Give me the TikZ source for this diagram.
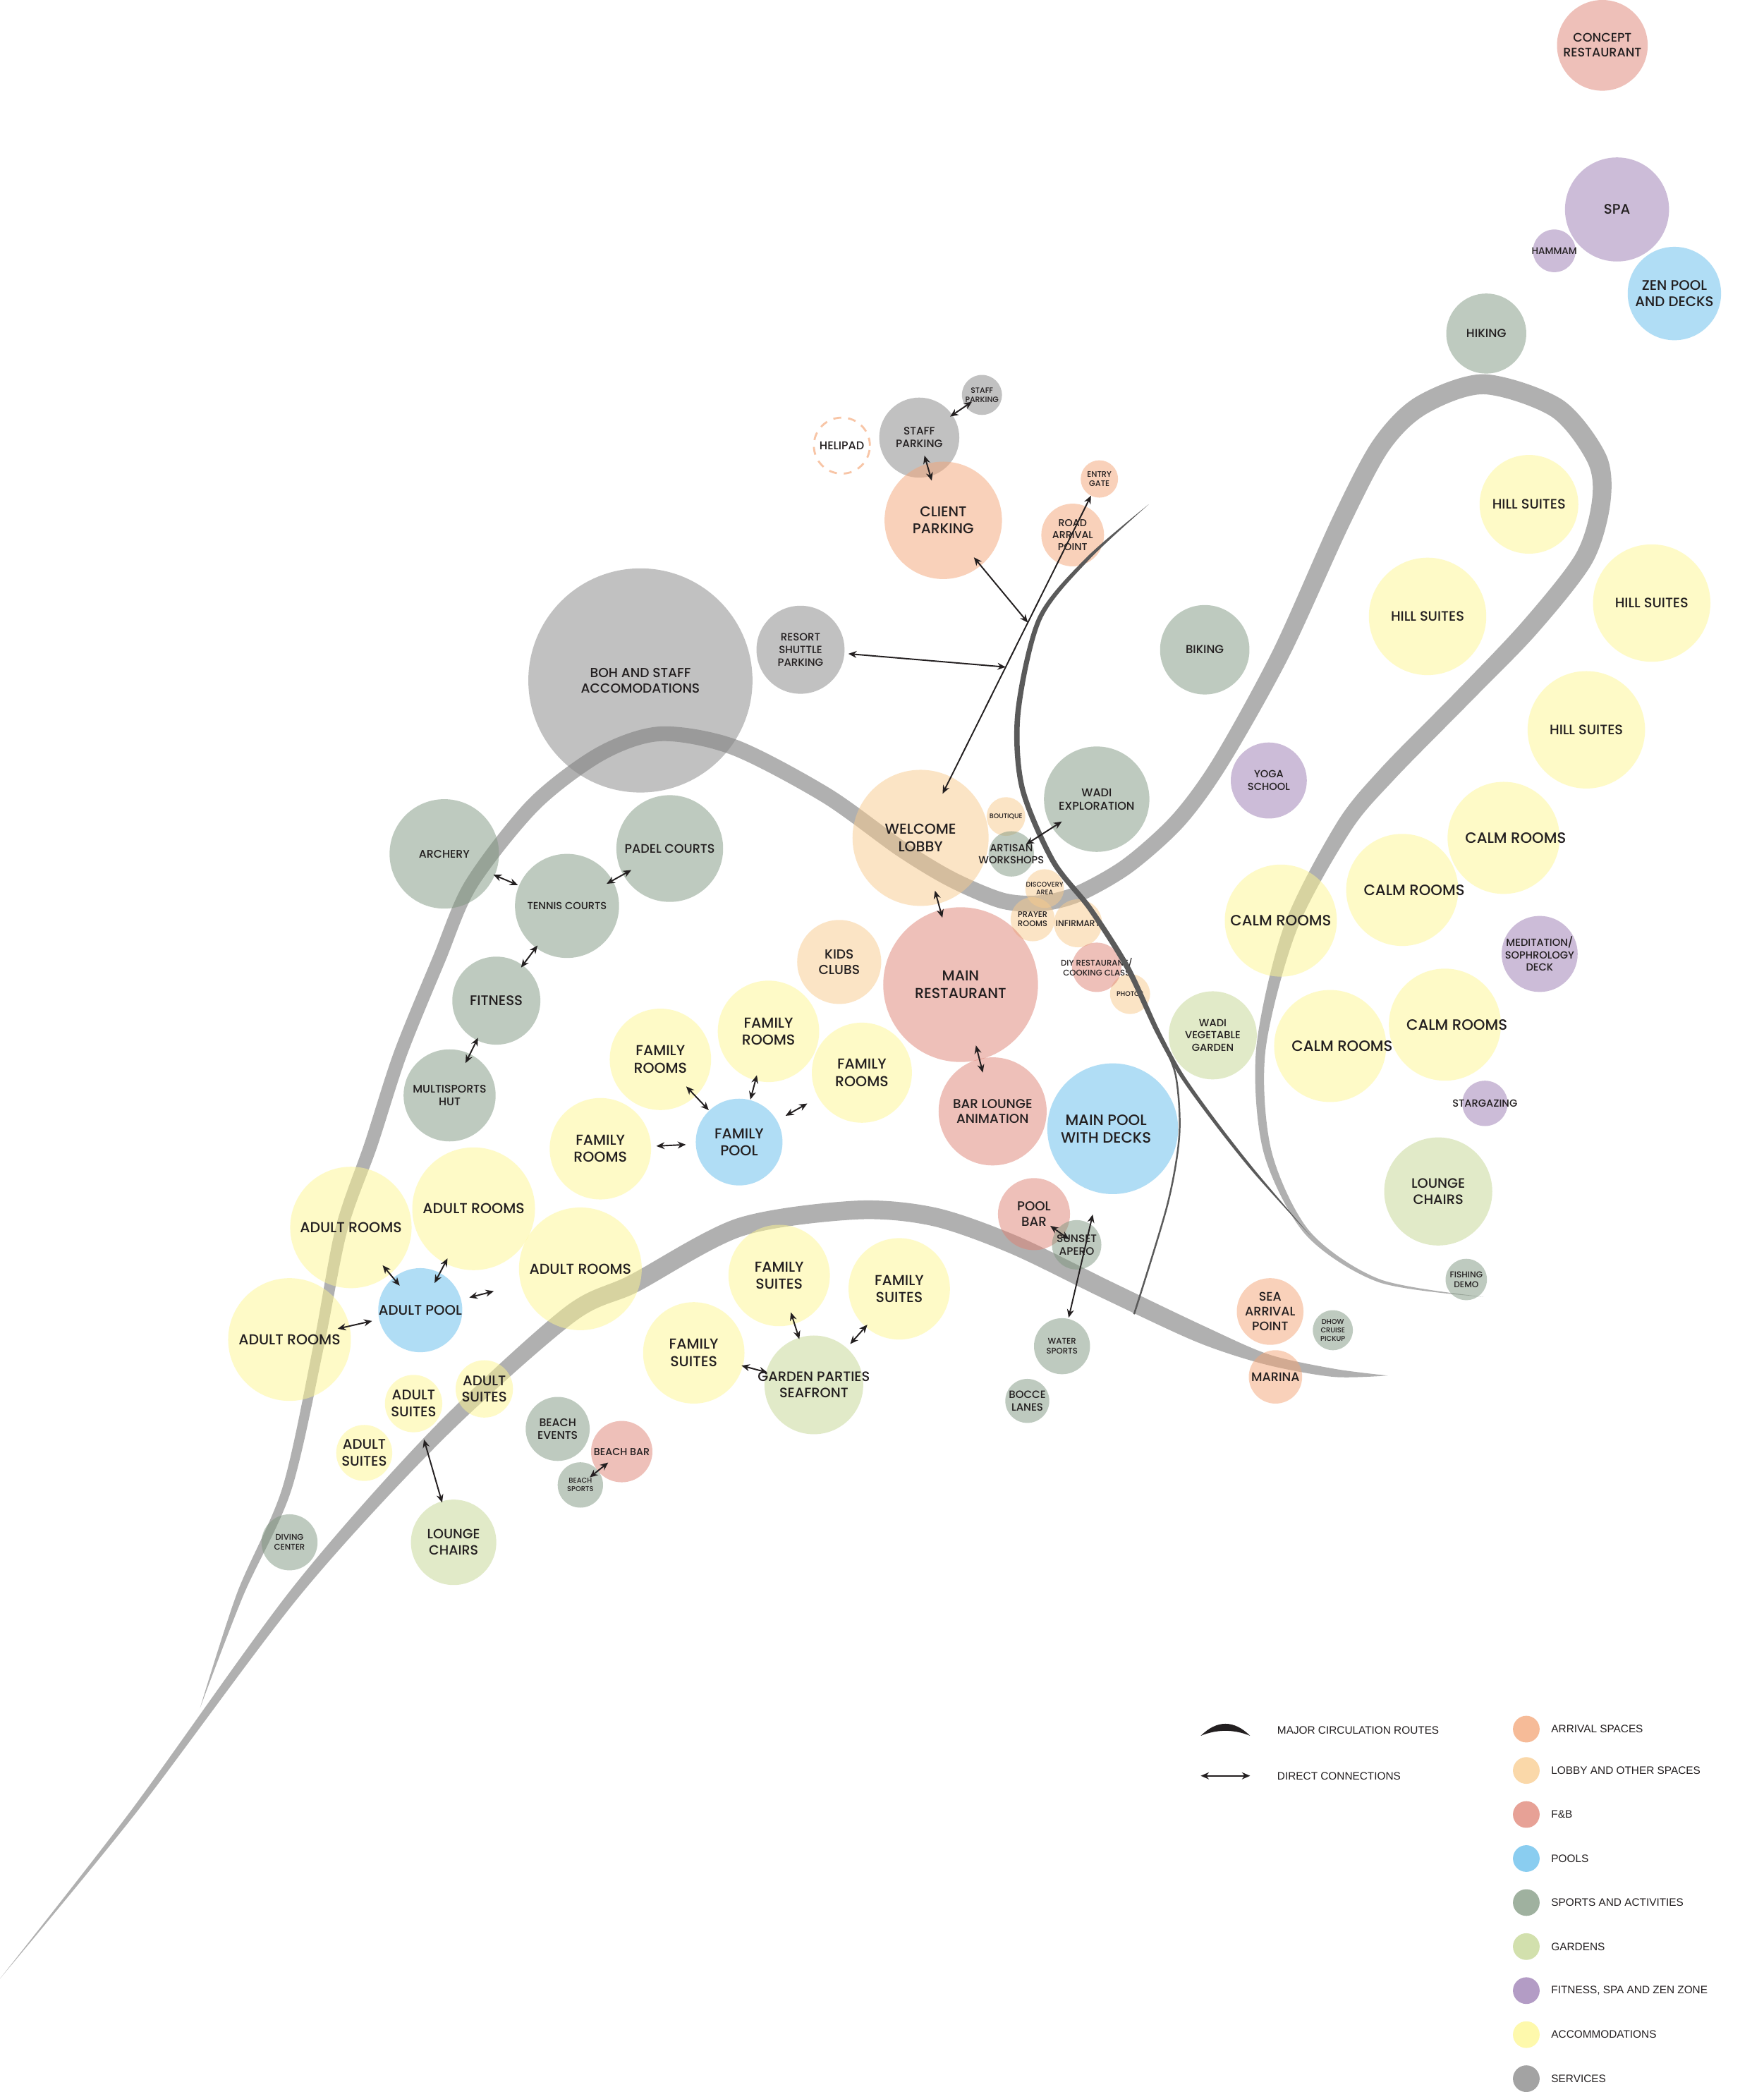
\documentclass[tikz,border=0pt]{standalone}
\usepackage{fontspec}
\setmainfont{Liberation Sans}
\newfontfamily\mapfont{Poppins}[UprightFont=* Medium]
\usetikzlibrary{arrows.meta,calc}

\newlength\pxu
\setlength\pxu{0.018911cm}
\newcommand\fsz[1]{\fontsize{\fpeval{1.04*#1}}{\fpeval{1.24*#1}}\selectfont}

\definecolor{arrival}{RGB}{244,165,118}
\definecolor{lobbyc}{RGB}{249,203,141}
\definecolor{fnb}{RGB}{223,130,116}
\definecolor{poolc}{RGB}{99,189,236}
\definecolor{sport}{RGB}{127,151,128}
\definecolor{gardenc}{RGB}{196,214,146}
\definecolor{spac}{RGB}{154,123,178}
\definecolor{accom}{RGB}{254,247,145}
\definecolor{service}{RGB}{133,133,133}
\definecolor{routec}{RGB}{176,176,176}
\definecolor{roadc}{RGB}{90,90,90}
\definecolor{ink}{RGB}{35,31,32}

\tikzset{
    bub/.style 2 args={circle, inner sep=0pt, fill=#1, fill opacity=0.5, minimum size=#2\pxu},
    lbl/.style={font=\mapfont\fsz{#1}, align=center, inner sep=0pt, text=ink, text opacity=1},
    keylbl/.style={font=\fsz{4.2}, inner sep=0pt, text=ink, text opacity=1},
    link/.style 2 args={<->, >={Stealth[length=3.3pt,width=2.8pt]}, line width=0.55pt, draw=ink,
        shorten <=#1\pxu, shorten >=#2\pxu},
    route/.style={fill=routec},
    road/.style={fill=roadc},
    legdot/.style={circle, inner sep=0pt, fill=#1, fill opacity=0.75, minimum size=20\pxu}
}

\begin{document}
\begin{tikzpicture}[x=0.018911cm, y=-0.018911cm]
        \useasboundingbox[fill=white] (0,0) rectangle (1322,1568);

        %% Major circulation routes
        % Beach promenade
        \fill[route] plot[smooth] coordinates {(0,1483) (98.4,1356.8) (218.9,1190.5) (324.1,1071.1)
            (422,980.8) (471.8,955.8) (551.8,913.4) (640.6,900) (701.5,905.2) (762.7,926.5)
            (833,960.7) (902.6,994) (951.1,1015.2) (1000.4,1026) (1040,1031)}
            -- plot[smooth] coordinates {(1040,1031) (999.6,1032) (948.9,1022.8) (897.4,1006)
            (827,973.3) (757.3,939.5) (698.5,918.8) (641.4,914) (556.2,926.6) (478.2,968.2)
            (430,991.2) (331.9,1078.9) (225.1,1195.5) (101.6,1359.2) (0,1483)}
            -- cycle
        ;
        % Hill loop
        \fill[route] plot[smooth] coordinates {(150,1280) (177.7,1194) (211.7,1115) (235.1,1007.2)
            (251.6,919.9) (273.3,856.4) (295.3,788.3) (324.4,717.1) (348.7,660.4) (396.1,599.1)
            (447.3,560.2) (494.7,544.5) (552.1,554.4) (622.1,590.9) (678.3,631) (715.7,653.7)
            (752.6,669.2) (779.5,671) (805.6,664.5) (841.5,644.2) (878.5,611) (909.9,567.9)
            (954.2,487.1) (998.7,388) (1029.2,330) (1061.2,297.6) (1112.1,280.5) (1171.1,299.7)
            (1203.8,340.8) (1206.9,377.9) (1193.1,422.5) (1151.3,475.6) (1100.7,527.5)
            (1044.8,584.4) (1012.1,623.2) (971.7,697.7) (948.5,787.4) (952.9,862.3)
            (981.5,922.7) (1034.4,958.9) (1112,972)}
            -- plot[smooth] coordinates {(1112,972) (1033.6,961.1) (978.5,925.3) (947.1,863.7)
            (941.5,786.6) (962.3,694.3) (1001.9,616.8) (1035.2,575.6) (1091.3,518.5)
            (1140.7,466.4) (1180.9,415.5) (1193.1,376.1) (1190.2,347.2) (1162.9,312.3)
            (1111.9,295.5) (1068.8,310.4) (1040.8,338) (1011.3,394) (965.8,492.9) (920.1,574.1)
            (887.5,619) (848.5,653.8) (810.4,675.5) (780.5,683) (749.4,680.8) (710.3,664.3)
            (671.7,641) (615.9,601.1) (547.9,565.6) (495.3,555.5) (452.7,569.8) (403.9,606.9)
            (357.3,665.6) (333.6,720.9) (304.7,791.7) (282.7,859.6) (260.4,922.1)
            (242.9,1008.8) (218.3,1117) (182.3,1196) (150,1280)}
            -- cycle
        ;

        %% Services
        \node[bub={service}{168}, label={[lbl=5.1]center:BOH AND STAFF\\ACCOMODATIONS}] (boh) at (480,510) {};
        \node[bub={service}{66}, label={[lbl=4.1]center:RESORT\\SHUTTLE\\PARKING}] (shuttle) at (600,487) {};
        \node[bub={service}{60}, label={[lbl=4.2]center:STAFF\\PARKING}] (spark) at (689,328) {};
        \node[bub={service}{30}, label={[lbl=3]center:STAFF\\PARKING}] (spark2) at (736,296) {};

        %% Arrival
        \node[circle, inner sep=0pt, minimum size=42\pxu, draw=arrival!65, line width=0.8pt,
            dash pattern=on 3.2pt off 2.8pt, label={[lbl=4.4]center:HELIPAD}] (helipad) at (631,334) {};
        \node[bub={arrival}{88}, label={[lbl=5.5]center:CLIENT\\PARKING}] (clientpark) at (707,390) {};
        \node[bub={arrival}{28}, label={[lbl=3.1]center:ENTRY\\GATE}] (entrygate) at (824,359) {};
        \node[bub={arrival}{47}, label={[lbl=3.9]center:ROAD\\ARRIVAL\\POINT}] (roadarr) at (804,401) {};
        \node[bub={arrival}{50}, label={[lbl=4.8]center:SEA\\ARRIVAL\\POINT}] (seaarr) at (952,983) {};
        \node[bub={arrival}{40}, label={[lbl=4.8]center:MARINA}] (marina) at (956,1032) {};

        %% Lobby and other spaces
        \node[bub={lobbyc}{102}, label={[lbl=5.6]center:WELCOME\\LOBBY}] (lobby) at (690,628) {};
        \node[bub={lobbyc}{29}, label={[lbl=2.6]center:BOUTIQUE}] (boutique) at (754,612) {};
        \node[bub={lobbyc}{29}, label={[lbl=2.6]center:DISCOVERY\\AREA}] (discovery) at (783,666) {};
        \node[bub={lobbyc}{33}, label={[lbl=3.1]center:PRAYER\\ROOMS}] (prayer) at (774,689) {};
        \node[bub={lobbyc}{36}, label={[lbl=3.3]center:INFIRMARY}] (infirmary) at (808,692) {};
        \node[bub={lobbyc}{30}, label={[lbl=2.6]center:PHOTOS}] (photos) at (847,745) {};
        \node[bub={lobbyc}{63}, label={[lbl=5.1]center:KIDS\\CLUBS}] (kids) at (629,721) {};

        %% F&B
        \node[bub={fnb}{68}, label={[lbl=4.8]center:CONCEPT\\RESTAURANT}] (concept) at (1201,34) {};
        \node[bub={fnb}{116}, label={[lbl=5.6]center:MAIN\\RESTAURANT}] (mainrest) at (720,738) {};
        \node[bub={fnb}{37}, label={[lbl=3.2]center:DIY RESTAURANT/\\COOKING CLASS}] (diy) at (822,725) {};
        \node[bub={fnb}{81}, label={[lbl=5]center:BAR LOUNGE\\ANIMATION}] (barlounge) at (744,833) {};
        \node[bub={fnb}{54}, label={[lbl=5]center:POOL\\BAR}] (poolbar) at (775,910) {};
        \node[bub={fnb}{46}, label={[lbl=3.9]center:BEACH BAR}] (beachbar) at (466,1088) {};

        %% Pools
        \node[bub={poolc}{70}, label={[lbl=5.4]center:ZEN POOL\\AND DECKS}] (zenpool) at (1255,220) {};
        \node[bub={poolc}{98}, label={[lbl=5.8, xshift=-5\pxu]center:MAIN POOL\\WITH DECKS}] (mainpool) at (834,846) {};
        \node[bub={poolc}{65}, label={[lbl=5.6]center:FAMILY\\POOL}] (fampool) at (554,856) {};
        \node[bub={poolc}{63}, label={[lbl=5.4]center:ADULT POOL}] (adultpool) at (315,982) {};

        %% Sports and activities
        \node[bub={sport}{60}, label={[lbl=4.6]center:HIKING}] (hiking) at (1114,250) {};
        \node[bub={sport}{67}, label={[lbl=4.5]center:BIKING}] (biking) at (903,487) {};
        \node[bub={sport}{79}, label={[lbl=4.4]center:WADI\\EXPLORATION}] (wadiexp) at (822,599) {};
        \node[bub={sport}{34}, label={[lbl=4]center:ARTISAN\\WORKSHOPS}] (artisan) at (758,640) {};
        \node[bub={sport}{82}, label={[lbl=4.3]center:ARCHERY}] (archery) at (333,640) {};
        \node[bub={sport}{80}, label={[lbl=4.8]center:PADEL COURTS}] (padel) at (502,636) {};
        \node[bub={sport}{78}, label={[lbl=4]center:TENNIS COURTS}] (tennis) at (425,679) {};
        \node[bub={sport}{66}, label={[lbl=5.4]center:FITNESS}] (fitness) at (372,750) {};
        \node[bub={sport}{69}, label={[lbl=4.3]center:MULTISPORTS\\HUT}] (multisport) at (337,821) {};
        \node[bub={sport}{37}, label={[lbl=4.2]center:SUNSET\\APERO}] (apero) at (807,933) {};
        \node[bub={sport}{42}, label={[lbl=3.2]center:WATER\\SPORTS}] (watersport) at (796,1009) {};
        \node[bub={sport}{33}, label={[lbl=4.1]center:BOCCE\\LANES}] (bocce) at (770,1050) {};
        \node[bub={sport}{30}, label={[lbl=2.7]center:DHOW\\CRUISE\\PICKUP}] (dhow) at (999,997) {};
        \node[bub={sport}{31}, label={[lbl=3.3]center:FISHING\\DEMO}] (fishing) at (1099,959) {};
        \node[bub={sport}{48}, label={[lbl=4.3]center:BEACH\\EVENTS}] (beachev) at (418,1071) {};
        \node[bub={sport}{34}, label={[lbl=2.7]center:BEACH\\SPORTS}] (beachsp) at (435,1113) {};
        \node[bub={sport}{42}, label={[lbl=3.2]center:DIVING\\CENTER}] (diving) at (217,1156) {};

        %% Gardens
        \node[bub={gardenc}{66}, label={[lbl=4]center:WADI\\VEGETABLE\\GARDEN}] (wadiveg) at (909,776) {};
        \node[bub={gardenc}{81}, label={[lbl=5.3]center:LOUNGE\\CHAIRS}] (lounge2) at (1078,893) {};
        \node[bub={gardenc}{74}, label={[lbl=5.3]center:GARDEN PARTIES\\SEAFRONT}] (gardenparty) at (610,1038) {};
        \node[bub={gardenc}{64}, label={[lbl=5.2]center:LOUNGE\\CHAIRS}] (lounge1) at (340,1156) {};

        %% Fitness, spa and zen zone
        \node[bub={spac}{78}, label={[lbl=5.4]center:SPA}] (spa) at (1212,157) {};
        \node[bub={spac}{32}, label={[lbl=3.7]center:HAMMAM}] (hammam) at (1165,188) {};
        \node[bub={spac}{57}, label={[lbl=4]center:YOGA\\SCHOOL}] (yoga) at (951,585) {};
        \node[bub={spac}{57}, label={[lbl=4]center:MEDITATION/\\SOPHROLOGY\\DECK}] (meditation) at (1154,715) {};
        \node[bub={spac}{34}, label={[lbl=4]center:STARGAZING}] (stargazing) at (1113,827) {};

        %% Accommodations
        \node[bub={accom}{74}, label={[lbl=5.3]center:HILL SUITES}] (hill1) at (1146,378) {};
        \node[bub={accom}{88}, label={[lbl=5.3]center:HILL SUITES}] (hill2) at (1070,462) {};
        \node[bub={accom}{88}, label={[lbl=5.3]center:HILL SUITES}] (hill3) at (1238,452) {};
        \node[bub={accom}{88}, label={[lbl=5.3]center:HILL SUITES}] (hill4) at (1189,547) {};
        \node[bub={accom}{84}, label={[lbl=5.8]center:CALM ROOMS}] (calm1) at (960,690) {};
        \node[bub={accom}{84}, label={[lbl=5.8, xshift=9\pxu]center:CALM ROOMS}] (calm2) at (1051,667) {};
        \node[bub={accom}{84}, label={[lbl=5.8, xshift=9\pxu]center:CALM ROOMS}] (calm3) at (1127,628) {};
        \node[bub={accom}{84}, label={[lbl=5.8, xshift=9\pxu]center:CALM ROOMS}] (calm4) at (1083,768) {};
        \node[bub={accom}{84}, label={[lbl=5.8, xshift=9\pxu]center:CALM ROOMS}] (calm5) at (997,784) {};
        \node[bub={accom}{76}, label={[lbl=5.6]center:FAMILY\\ROOMS}] (famA) at (495,794) {};
        \node[bub={accom}{76}, label={[lbl=5.6]center:FAMILY\\ROOMS}] (famB) at (576,773) {};
        \node[bub={accom}{75}, label={[lbl=5.6]center:FAMILY\\ROOMS}] (famC) at (646,804) {};
        \node[bub={accom}{76}, label={[lbl=5.6]center:FAMILY\\ROOMS}] (famD) at (450,861) {};
        \node[bub={accom}{91}, label={[lbl=5.6]center:ADULT ROOMS}] (adultA) at (263,920) {};
        \node[bub={accom}{92}, label={[lbl=5.6]center:ADULT ROOMS}] (adultB) at (355,906) {};
        \node[bub={accom}{92}, label={[lbl=5.6]center:ADULT ROOMS}] (adultC) at (435,951) {};
        \node[bub={accom}{92}, label={[lbl=5.6]center:ADULT ROOMS}] (adultD) at (217,1004) {};
        \node[bub={accom}{76}, label={[lbl=5.6]center:FAMILY\\SUITES}] (suiteA) at (584,956) {};
        \node[bub={accom}{76}, label={[lbl=5.6]center:FAMILY\\SUITES}] (suiteB) at (674,966) {};
        \node[bub={accom}{76}, label={[lbl=5.6]center:FAMILY\\SUITES}] (suiteC) at (520,1014) {};
        \node[bub={accom}{43}, label={[lbl=5.4]center:ADULT\\SUITES}] (adsuiteA) at (310,1052) {};
        \node[bub={accom}{43}, label={[lbl=5.4]center:ADULT\\SUITES}] (adsuiteB) at (363,1041) {};
        \node[bub={accom}{42}, label={[lbl=5.4]center:ADULT\\SUITES}] (adsuiteC) at (273,1089) {};

        %% Access road, over the bubbles
        \fill[road] plot[smooth] coordinates {(861,378) (815.9,419.9) (780.6,464.7) (765,534.2)
            (767.9,589.5) (790.7,644) (818.6,679.9) (846.8,724) (868.6,771.2) (886.3,804.2)
            (911,839.2) (940.8,877.4) (982,926)}
            -- plot[smooth] coordinates {(982,926) (939.2,878.6) (909,840.8) (883.7,805.8)
            (865.4,772.8) (843.2,726) (815.4,682.1) (787.3,646) (764.1,590.5) (761,533.8)
            (777.4,463.3) (814.1,418.1) (861,378)}
            -- cycle
        ;
        \draw[roadc, line width=0.7pt] plot[smooth] coordinates {(868,775) (881,805) (884,850) (875,903) (850,985)};

        %% Direct connections
        \coordinate (roadpt1) at ($(lobby)!0.6!(entrygate)$);
        \coordinate (roadpt2) at ($(lobby)!0.476!(entrygate)$);
        \draw[link={28}{9}] (spark.center) -- (spark2.center);
        \draw[link={14}{31}] (spark.center) -- (clientpark.center);
        \draw[link={36}{0}] (clientpark.center) -- (roadpt1);
        \draw[link={36}{0}] (shuttle.center) -- (roadpt2);
        \draw[link={37}{14}] (lobby.center) -- (entrygate.center);
        \draw[link={13}{31}] (artisan.center) -- (wadiexp.center);
        \draw[link={41}{52}] (lobby.center) -- (mainrest.center);
        \draw[link={47}{30}] (mainrest.center) -- (barlounge.center);
        \draw[link={40}{40}] (archery.center) -- (tennis.center);
        \draw[link={33}{34}] (padel.center) -- (tennis.center);
        \draw[link={37}{31}] (tennis.center) -- (fitness.center);
        \draw[link={31}{27}] (fitness.center) -- (multisport.center);
        \draw[link={28}{33}] (famA.center) -- (fampool.center);
        \draw[link={34}{33}] (famB.center) -- (fampool.center);
        \draw[link={47}{40}] (famC.center) -- (fampool.center);
        \draw[link={42}{40}] (famD.center) -- (fampool.center);
        \draw[link={37}{24}] (adultA.center) -- (adultpool.center);
        \draw[link={42}{23}] (adultB.center) -- (adultpool.center);
        \draw[link={67}{38}] (adultC.center) -- (adultpool.center);
        \draw[link={37}{37}] (adultD.center) -- (adultpool.center);
        \draw[link={28}{31}] (adsuiteA.center) -- (lounge1.center);
        \draw[link={13}{9}] (beachbar.center) -- (beachsp.center);
        \draw[link={29}{36}] (suiteA.center) -- (gardenparty.center);
        \draw[link={36}{41}] (suiteB.center) -- (gardenparty.center);
        \draw[link={37}{36}] (suiteC.center) -- (gardenparty.center);
        \draw[link={15}{7}] (poolbar.center) -- (apero.center);
        \draw[link={22}{66}] (watersport.center) -- (mainpool.center);

        %% Legend
        \fill[ink] (900,1301) .. controls (912,1289) and (925,1289) .. (937,1301)
            .. controls (925,1296) and (912,1296) .. (900,1301) -- cycle;
        \node[keylbl, anchor=west] (keyroute) at (957,1297) {MAJOR CIRCULATION ROUTES};
        \coordinate (keyl) at (900,1331);
        \coordinate (keyr) at (937,1331);
        \draw[link={0}{0}] (keyl) -- (keyr);
        \node[keylbl, anchor=west] (keylink) at (957,1331) {DIRECT CONNECTIONS};
        \node[legdot=arrival, label={[keylbl, xshift=8\pxu]right:ARRIVAL SPACES}] (keyarr) at (1144,1296) {};
        \node[legdot=lobbyc, label={[keylbl, xshift=8\pxu]right:LOBBY AND OTHER SPACES}] (keylobby) at (1144,1327) {};
        \node[legdot=fnb, label={[keylbl, xshift=8\pxu]right:F\&B}] (keyfnb) at (1144,1360) {};
        \node[legdot=poolc, label={[keylbl, xshift=8\pxu]right:POOLS}] (keypool) at (1144,1393) {};
        \node[legdot=sport, label={[keylbl, xshift=8\pxu]right:SPORTS AND ACTIVITIES}] (keysport) at (1144,1426) {};
        \node[legdot=gardenc, label={[keylbl, xshift=8\pxu]right:GARDENS}] (keygarden) at (1144,1459) {};
        \node[legdot=spac, label={[keylbl, xshift=8\pxu]right:FITNESS, SPA AND ZEN ZONE}] (keyspa) at (1144,1492) {};
        \node[legdot=accom, label={[keylbl, xshift=8\pxu]right:ACCOMMODATIONS}] (keyaccom) at (1144,1525) {};
        \node[legdot=service, label={[keylbl, xshift=8\pxu]right:SERVICES}] (keyservice) at (1144,1558) {};

    \end{tikzpicture}
\end{document}
